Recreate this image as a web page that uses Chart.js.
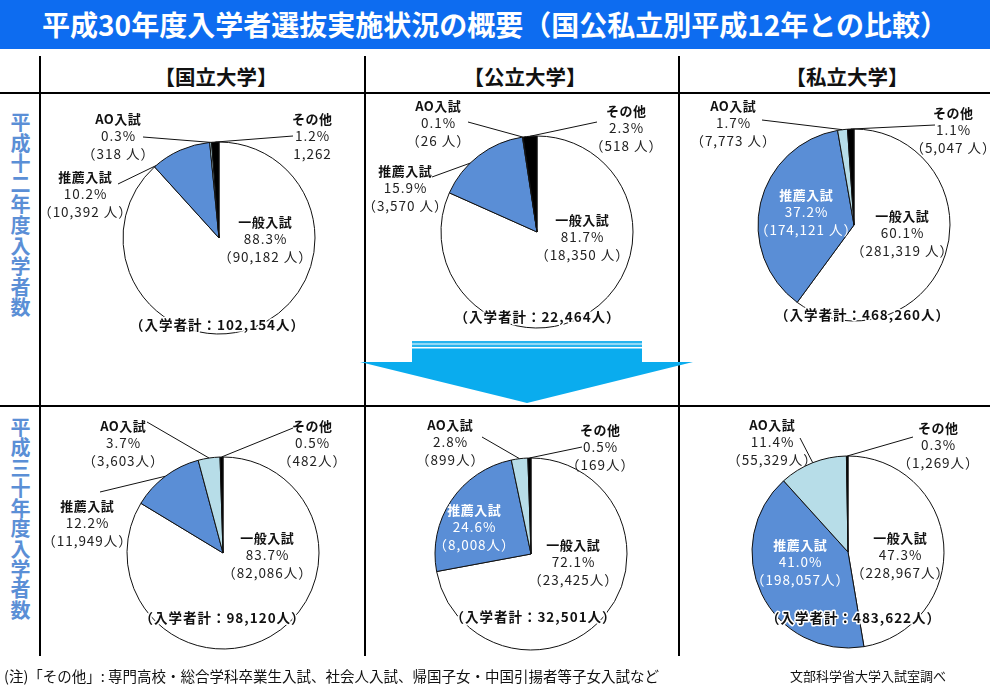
<!DOCTYPE html>
<html lang="ja">
<head>
<meta charset="utf-8">
<script src="https://cdn.jsdelivr.net/npm/chart.js@4.4.1/dist/chart.umd.min.js"></script>
<style>
html,body{margin:0;padding:0;background:#fff;}
body{width:990px;height:697px;position:relative;overflow:hidden;font-family:"Noto Sans CJK JP","Noto Sans",sans-serif;color:#111;}
#title{position:absolute;left:0;top:0;width:990px;height:49px;background:#0d6cf0;color:#fff;font-weight:bold;font-size:28px;line-height:49px;text-align:center;white-space:nowrap;}
.vl{position:absolute;width:2px;background:#000;top:56px;height:600px;}
.hl{position:absolute;height:2px;background:#000;left:0;width:990px;}
.colh{position:absolute;top:61px;font-size:20.5px;font-weight:bold;width:220px;text-align:center;line-height:30px;white-space:nowrap;}
.rowh{position:absolute;left:10px;width:21px;font-size:20px;font-weight:bold;color:#5b8fd6;line-height:20.6px;text-align:center;word-break:break-all;}
canvas{position:absolute;}
.note{position:absolute;top:666px;font-size:14.5px;line-height:20px;white-space:nowrap;color:#111;}
svg{position:absolute;left:0;top:0;}
</style>
</head>
<body>
<div id="title"></div>
<div class="vl" style="left:39px"></div>
<div class="vl" style="left:364px"></div>
<div class="vl" style="left:678px"></div>
<div class="hl" style="top:92px"></div>
<div class="hl" style="top:405px"></div>
<div id="colheads"></div>
<div id="rowheads"></div>
<svg width="990" height="697">
  <rect x="412" y="341" width="230" height="2.5" fill="#27b4ee"/>
  <rect x="412" y="344.5" width="230" height="2.5" fill="#27b4ee"/>
  <polygon points="412,348.5 642,348.5 642,362 693,362 527,403 360,362 412,362" fill="#0aacee"/>
</svg>
<div id="charts"></div>
<div class="note" style="left:4px">(注)「その他」: 専門高校・総合学科卒業生入試、社会人入試、帰国子女・中国引揚者等子女入試など</div>
<div class="note" style="left:790px;font-size:13px">文部科学省大学入試室調べ</div>
<script>
// ---------------- DATA ----------------
const TITLE = '平成30年度入学者選抜実施状況の概要（国公私立別平成12年との比較）';
const CATEGORIES = ['一般入試', '推薦入試', 'AO入試', 'その他'];
const UNIVERSITIES = ['【国立大学】', '【公立大学】', '【私立大学】'];
const YEAR_LABELS = ['平成十二年度入学者数', '平成三十年度入学者数'];

// 入学者数 [一般入試, 推薦入試, AO入試, その他]
const H12_KOKURITSU = [90182, 10392, 318, 1262];
const H12_KORITSU   = [18350, 3570, 26, 518];
const H12_SHIRITSU  = [281319, 174121, 7773, 5047];
const H30_KOKURITSU = [82086, 11949, 3603, 482];
const H30_KORITSU   = [23425, 8008, 899, 169];
const H30_SHIRITSU  = [228967, 198057, 55329, 1269];

const H12_TOTALS = [102154, 22464, 468260];
const H30_TOTALS = [98120, 32501, 483622];

const SLICE_COLORS = ['#ffffff', '#5a8ed6', '#b7dde8', '#000000'];

// ---------------- STATIC TEXT ----------------
document.getElementById('title').textContent = TITLE;
const colX = [216, 525, 847];
UNIVERSITIES.forEach((u, i) => {
  const d = document.createElement('div');
  d.className = 'colh';
  d.style.left = (colX[i] - 110) + 'px';
  d.textContent = u;
  document.getElementById('colheads').appendChild(d);
});
const rowTop = [112, 417];
YEAR_LABELS.forEach((y, i) => {
  const d = document.createElement('div');
  d.className = 'rowh';
  d.style.top = rowTop[i] + 'px';
  if (i === 1) d.style.lineHeight = '20.3px';
  d.textContent = y;
  document.getElementById('rowheads').appendChild(d);
});

// ---------------- LAYOUT ----------------
const PANELS = [
  {vals: H12_KOKURITSU, total: H12_TOTALS[0], sp: ' ', cx: 219, cy: 238, plainOther: true,
   lab: [{dx:46,dy:1},{dx:-134,dy:-44,lx:-101,ly:-54,t:0.03},{dx:-101,dy:-102,lx:-76,ly:-101},{dx:93,dy:-102,lx:74,ly:-102}], tot:{dx:-2,dy:87}},
  {vals: H12_KORITSU, total: H12_TOTALS[1], sp: ' ', cx: 537, cy: 232,
   lab: [{dx:45,dy:5},{dx:-132,dy:-44,lx:-105,ly:-55,t:0.38},{dx:-99,dy:-109,lx:-69,ly:-110},{dx:89,dy:-104,lx:60,ly:-110}], tot:{dx:0,dy:85}},
  {vals: H12_SHIRITSU, total: H12_TOTALS[2], sp: ' ', cx: 854, cy: 225,
   lab: [{dx:48,dy:8},{dx:-48,dy:-13,inside:true},{dx:-121,dy:-102,lx:-92,ly:-105},{dx:99,dy:-95,lx:81,ly:-100}], tot:{dx:8,dy:90}},
  {vals: H30_KOKURITSU, total: H30_TOTALS[0], sp: '', cx: 223, cy: 553,
   lab: [{dx:44,dy:2},{dx:-136,dy:-30,lx:-123,ly:-61},{dx:-100,dy:-110,lx:-76,ly:-131},{dx:89,dy:-110,lx:70,ly:-125}], tot:{dx:-1,dy:65}},
  {vals: H30_KORITSU, total: H30_TOTALS[1], sp: '', cx: 531, cy: 554,
   lab: [{dx:42,dy:8},{dx:-57,dy:-27,inside:true},{dx:-81,dy:-112,lx:-49,ly:-117},{dx:69,dy:-107,lx:51,ly:-107}], tot:{dx:2,dy:63}},
  {vals: H30_SHIRITSU, total: H30_TOTALS[2], sp: '', cx: 848, cy: 552,
   lab: [{dx:52,dy:3},{dx:-48,dy:10,inside:true},{dx:-76,dy:-110,lx:-48,ly:-114},{dx:90,dy:-107,lx:65,ly:-115}], tot:{dx:5,dy:66}}
];

const CW = 400, CH = 300, AREA = 193;
const fmt = n => n.toLocaleString('en-US');
const FONT = '"Noto Sans CJK JP","Noto Sans",sans-serif';
const LH = 17.4;

function centeredText(ctx, txt, x, y, spacing, stroke) {
  ctx.letterSpacing = spacing + 'px';
  const w = ctx.measureText(txt).width - spacing;
  ctx.textAlign = 'left';
  if (stroke) ctx.strokeText(txt, x - w / 2, y);
  ctx.fillText(txt, x - w / 2, y);
}

const labelPlugin = {
  id: 'sliceLabels',
  afterDatasetsDraw(chart) {
    const p = chart.options.plugins.sliceLabels.panel;
    const ctx = chart.ctx;
    const meta = chart.getDatasetMeta(0);
    const a0 = meta.data[0];
    const cx = a0.x, cy = a0.y, r = a0.outerRadius;
    ctx.save();
    ctx.textBaseline = 'middle';
    p.lab.forEach((L, i) => {
      const arc = meta.data[i];
      if (L.lx !== undefined) {
        const t = L.t === undefined ? 0.5 : L.t;
        const ang = arc.startAngle + t * (arc.endAngle - arc.startAngle);
        ctx.beginPath();
        ctx.strokeStyle = '#111';
        ctx.lineWidth = 1;
        ctx.moveTo(cx + L.lx, cy + L.ly);
        ctx.lineTo(cx + r * Math.cos(ang), cy + r * Math.sin(ang));
        ctx.stroke();
      }
      const v = p.vals[i];
      const pct = (v / p.total * 100).toFixed(1) + '%';
      const cnt = (p.plainOther && i === 3) ? fmt(v) : '（' + fmt(v) + p.sp + '人）';
      const x = cx + L.dx, y = cy + L.dy;
      ctx.fillStyle = L.inside ? '#ffffff' : '#111111';
      ctx.font = 'bold 13px ' + FONT;
      centeredText(ctx, CATEGORIES[i], x, y - LH, 0.5);
      ctx.font = '13.5px ' + FONT;
      ctx.fillStyle = L.inside ? '#ffffff' : '#222222';
      centeredText(ctx, pct, x, y, 1);
      centeredText(ctx, cnt, x, y + LH, 1);
    });
    const tx = cx + p.tot.dx, ty = cy + p.tot.dy;
    const ttxt = '（入学者計：' + fmt(p.total) + '人）';
    ctx.font = 'bold 13.5px ' + FONT;
    ctx.lineJoin = 'round';
    ctx.strokeStyle = '#ffffff';
    ctx.lineWidth = 3;
    ctx.fillStyle = '#111';
    centeredText(ctx, ttxt, tx, ty, 1, true);
    ctx.restore();
  }
};

PANELS.forEach(p => {
  const c = document.createElement('canvas');
  c.width = CW; c.height = CH;
  c.style.left = (p.cx - CW / 2) + 'px';
  c.style.top = (p.cy - CH / 2) + 'px';
  document.getElementById('charts').appendChild(c);
  new Chart(c, {
    type: 'pie',
    data: {
      labels: CATEGORIES,
      datasets: [{data: p.vals, backgroundColor: SLICE_COLORS, borderColor: '#111', borderWidth: 1}]
    },
    options: {
      responsive: false,
      animation: false,
      events: [],
      devicePixelRatio: 1,
      layout: {padding: {left: (CW - AREA) / 2, right: (CW - AREA) / 2, top: (CH - AREA) / 2, bottom: (CH - AREA) / 2}},
      plugins: {legend: {display: false}, tooltip: {enabled: false}, sliceLabels: {panel: p}}
    },
    plugins: [labelPlugin]
  });
});
</script>
</body>
</html>
